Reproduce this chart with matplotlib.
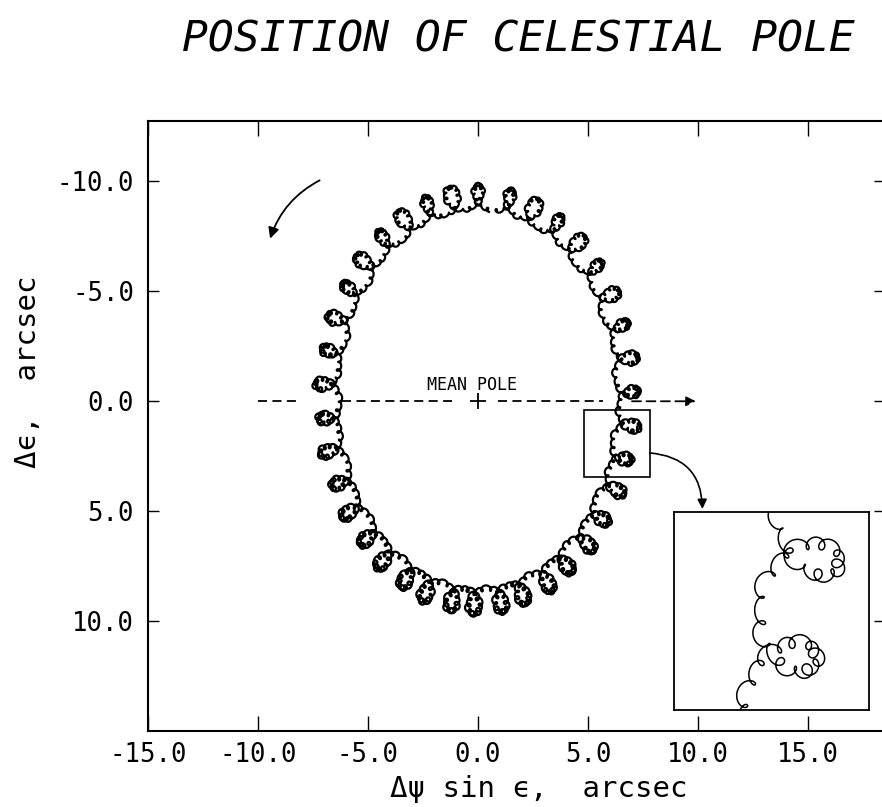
import numpy as np
import matplotlib
matplotlib.use("Agg")
import matplotlib.pyplot as plt
from matplotlib.patches import Rectangle, FancyArrowPatch

plt.rcParams['font.family'] = ['DejaVu Sans Mono', 'DejaVu Sans']

# nutation terms (arcsec); period of the argument in days
# (negative = regressing), phase of the argument at the first plotted day (deg)
term_period = [-6798.4, -3399.2, 182.62, 13.66, 365.26, 27.55, 13.63, 9.13, 121.75]
term_dpsi = [-17.1996, 0.2062, -1.3187, -0.2274, 0.1426, 0.0712, -0.0386, -0.0301, -0.0517]
term_deps = [9.2025, -0.0895, 0.5736, 0.0977, 0.0054, -0.0007, 0.0200, 0.0129, 0.0224]
term_phase = [184.7, 9.4, 5.0, 36.6, 79.9, 280.8, 210.5, 317.4, 84.9]
span_days = 6757
sin_eps = 0.3978

xticks = [-15, -10, -5, 0, 5, 10, 15]
yticks = [-10, -5, 0, 5, 10]

# annotation geometry (arcsec)
mean_pole_dashes = [(-10.0, -8.1), (-6.2, -1.2), (0.9, 5.7)]
mean_pole_arrow = (7.0, 9.9)
zoom_box = (4.8, 0.4, 3.0, 3.05)          # x, y, w, h
rot_arrow = ((-7.2, -10.05), (-9.45, -7.4))
zoom_arrow = ((7.8, 2.35), (10.2, 4.9))

# --- curve
t = np.arange(0, span_days, 0.05)
dpsi = np.zeros_like(t)
deps = np.zeros_like(t)
for P, a, b, ph in zip(term_period, term_dpsi, term_deps, term_phase):
    arg = np.radians(ph + 360.0 * t / P)
    dpsi += a * np.sin(arg)
    deps += b * np.cos(arg)
x = dpsi * sin_eps
y = deps

fig = plt.figure(figsize=(8.82, 8.07), dpi=100)
ax = fig.add_axes([148/882, 76/807, 737/882, 610/807])
ax.plot(x, y, color='k', lw=1.6)
ax.set_xlim(-15, 18.5)
ax.set_ylim(15, -12.75)

ax.set_xticks(xticks)
ax.set_xticklabels(['%.1f' % v for v in xticks], fontsize=18.5)
ax.set_yticks(yticks)
ax.set_yticklabels(['%.1f' % v for v in yticks], fontsize=18.5)
ax.tick_params(axis='x', direction='in', length=11, width=1.0, top=True, pad=8)
ax.tick_params(axis='y', direction='in', length=8, width=1.0, right=True, pad=10)
for s in ax.spines.values():
    s.set_linewidth(1.5)

# mean pole line
for x0, x1 in mean_pole_dashes:
    ax.plot([x0, x1], [0, 0], color='k', lw=1.3, ls=(0, (5, 3)))
ax.annotate('', xy=(mean_pole_arrow[1], 0), xytext=(mean_pole_arrow[0], 0),
            arrowprops=dict(arrowstyle='-|>', color='k', lw=1.3, ls=(0, (5, 3)),
                            mutation_scale=14, shrinkA=0, shrinkB=0))
ax.plot([0], [0], marker='+', color='k', ms=11, mew=1.3)
ax.text(-0.25, -0.72, 'MEAN POLE', fontsize=12, ha='center', va='center')

# rotation arrow
ax.add_patch(FancyArrowPatch(rot_arrow[0], rot_arrow[1], arrowstyle='-|>',
                             connectionstyle='arc3,rad=0.2', mutation_scale=16,
                             color='k', lw=1.3, shrinkA=0, shrinkB=0))

# zoom box and arrow
ax.add_patch(Rectangle(zoom_box[:2], zoom_box[2], zoom_box[3], fill=False,
                       ec='k', lw=1.2))
ax.add_patch(FancyArrowPatch(zoom_arrow[0], zoom_arrow[1], arrowstyle='-|>',
                             connectionstyle='arc3,rad=-0.45', mutation_scale=14,
                             color='k', lw=1.2, shrinkA=0, shrinkB=0))

# enlarged view
ins = fig.add_axes([674/882, 97/807, 195/882, 198/807])
ins.plot(x, y, color='k', lw=1.1)
ins.set_xlim(zoom_box[0], zoom_box[0] + zoom_box[2])
ins.set_ylim(zoom_box[1] + zoom_box[3], zoom_box[1])
ins.set_xticks([])
ins.set_yticks([])
for s in ins.spines.values():
    s.set_linewidth(1.3)

fig.text(518/882, 1 - 40/807, 'POSITION OF CELESTIAL POLE', fontsize=31,
         style='italic', ha='center', va='center')
fig.text(539/882, 1 - 789/807, '\u0394\u03c8 sin \u03f5,  arcsec', fontsize=21,
         ha='center', va='center')
fig.text(28/882, 1 - 372/807, '\u0394\u03f5,  arcsec', fontsize=21,
         rotation=90, ha='center', va='center')

fig.savefig('out.png', dpi=100)
